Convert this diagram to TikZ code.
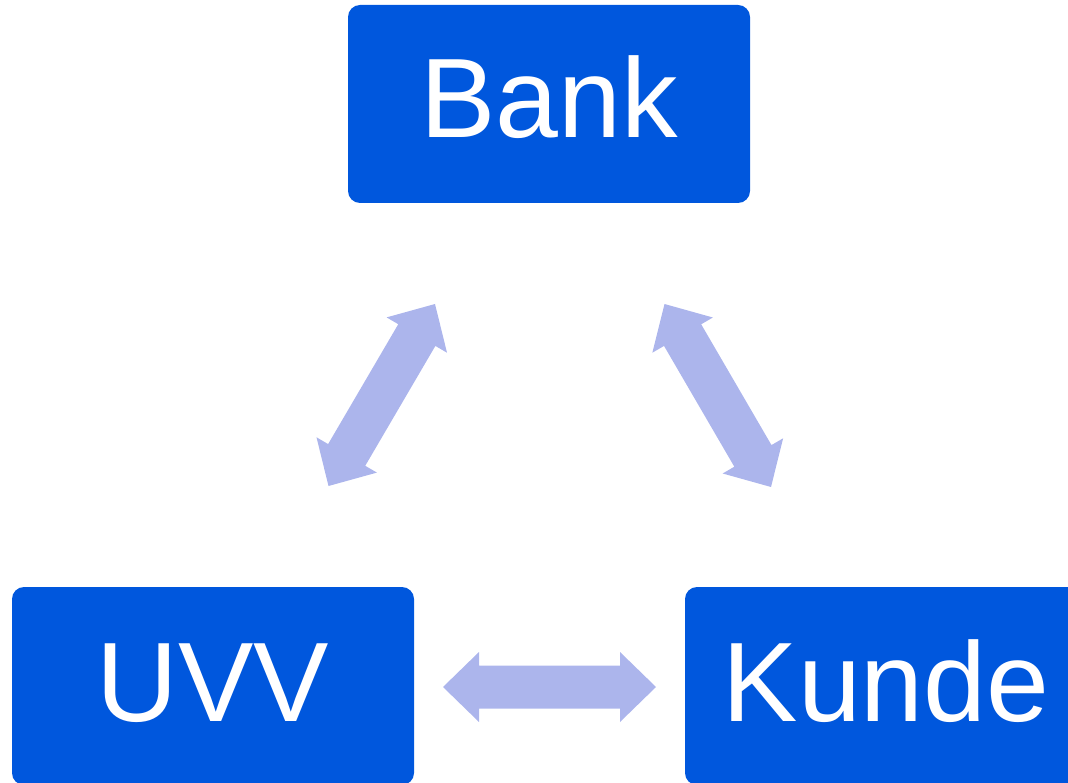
\documentclass[tikz,border=0pt]{standalone}
\usepackage{fontspec}
\setmainfont{Liberation Sans}
\usetikzlibrary{calc}
\definecolor{boxblue}{RGB}{0,87,221}
\definecolor{arrlav}{RGB}{172,181,236}
\newcommand\dblarr[2]{%
  \coordinate (#1h) at ($(#1)!36pt!(#2)$);
  \coordinate (#2h) at ($(#2)!36pt!(#1)$);
  \fill[arrfill] (#1) -- ($(#1h)!35pt!90:(#2)$) -- ($(#1h)!21.5pt!90:(#2)$)
    -- ($(#2h)!21.5pt!-90:(#1)$) -- ($(#2h)!35pt!-90:(#1)$) -- (#2)
    -- ($(#2h)!35pt!90:(#1)$) -- ($(#2h)!21.5pt!90:(#1)$)
    -- ($(#1h)!21.5pt!-90:(#2)$) -- ($(#1h)!35pt!-90:(#2)$) -- cycle;}
\begin{document}
\begin{tikzpicture}[x=1pt,y=-1pt,
  boxnode/.style={fill=boxblue, rounded corners=12pt, inner sep=0pt,
    minimum width=402pt, minimum height=198pt},
  lbl/.style={text=white, anchor=base, inner sep=0pt,
    font=\fontsize{113}{120}\selectfont},
  arrfill/.style={fill=arrlav}]
\useasboundingbox (0,0) rectangle (1068,783);
\clip (0,0) rectangle (1068,783);
\node[boxnode] (bank) at (549,104) {};
\node[boxnode] (uvv) at (213,686) {};
\node[boxnode] (kunde) at (886,686) {};
\node[lbl] (banktxt) at (549,138) {Bank};
\node[lbl] (uvvtxt) at (213,721) {UVV};
\node[lbl] (kundetxt) at (886,721) {Kunde};
\coordinate (la) at (328.5,486);
\coordinate (lb) at (435,304);
\coordinate (ra) at (664.5,304);
\coordinate (rb) at (771,487);
\coordinate (ha) at (443,687);
\coordinate (hb) at (656,687);
\dblarr{la}{lb}
\dblarr{ra}{rb}
\dblarr{ha}{hb}
\end{tikzpicture}
\end{document}
